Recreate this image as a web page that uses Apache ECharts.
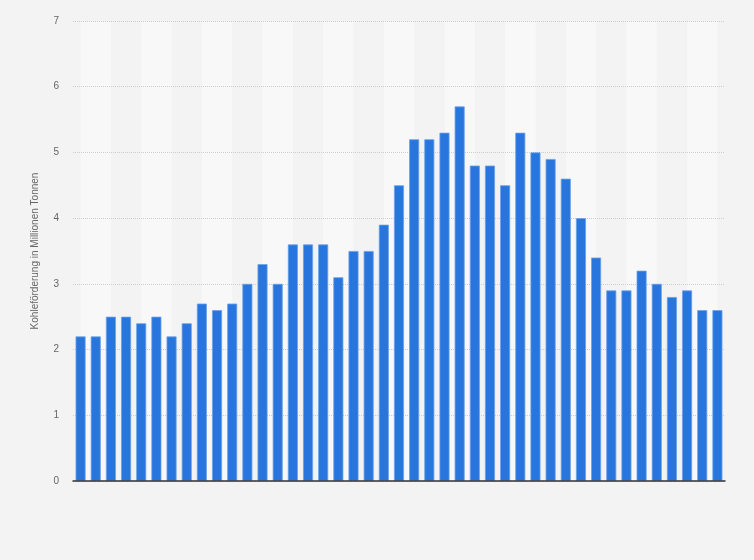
<!DOCTYPE html>
<html>
<head>
<meta charset="utf-8">
<script src="https://cdn.jsdelivr.net/npm/echarts@6/dist/echarts.min.js"></script>
<style>
html,body{margin:0;padding:0;background:#f3f3f3;}
#chart{width:754px;height:560px;}
</style>
</head>
<body>
<div id="chart"></div>
<script>
const categories = ['1','2','3','4','5','6','7','8','9','10','11','12','13','14','15','16','17','18','19','20','21','22','23','24','25','26','27','28','29','30','31','32','33','34','35','36','37','38','39','40','41','42','43'];
const values = [2.2,2.2,2.5,2.5,2.4,2.5,2.2,2.4,2.7,2.6,2.7,3.0,3.3,3.0,3.6,3.6,3.6,3.1,3.5,3.5,3.9,4.5,5.2,5.2,5.3,5.7,4.8,4.8,4.5,5.3,5.0,4.9,4.6,4.0,3.4,2.9,2.9,3.2,3.0,2.8,2.9,2.6,2.6];
const yTicks = [0,1,2,3,4,5,6,7];
const yTitle = 'Kohleförderung in Millionen Tonnen';

// alternating background bands, two categories wide, from bar centre to bar centre
const bands = [];
for (let i = 0; i + 2 < categories.length; i += 4) {
  bands.push([{xAxis: i + 0.5}, {xAxis: i + 2.5}]);
}

const chart = echarts.init(document.getElementById('chart'));
chart.setOption({
  backgroundColor: '#f3f3f3',
  animation: false,
  grid: {left: 73, right: 29, top: 21, bottom: 79},
  xAxis: [{
    type: 'category',
    data: categories,
    z: 4,
    axisLine: {show: true, lineStyle: {color: '#333', width: 1.5}},
    axisTick: {show: false},
    axisLabel: {show: false}
  }, {
    type: 'value',
    min: 0,
    max: categories.length,
    show: false
  }],
  yAxis: {
    type: 'value',
    min: yTicks[0],
    max: yTicks[yTicks.length - 1],
    interval: 1,
    z: 2,
    name: yTitle,
    nameLocation: 'middle',
    nameGap: 33,
    nameTextStyle: {color: '#666', fontSize: 10, fontFamily: 'Liberation Sans, Arial, sans-serif'},
    axisLine: {show: false},
    axisTick: {show: false},
    axisLabel: {color: '#666', fontSize: 10, margin: 14, fontFamily: 'Liberation Sans, Arial, sans-serif'},
    splitLine: {lineStyle: {color: '#cdcdcd', type: [1, 1], width: 1}}
  },
  series: [{
    type: 'line',
    xAxisIndex: 1,
    data: [],
    z: 0,
    silent: true,
    markArea: {
      silent: true,
      z: 0,
      itemStyle: {color: '#f8f8f8'},
      data: bands
    }
  }, {
    type: 'bar',
    data: values,
    barWidth: 10,
    itemStyle: {color: '#2876dd', borderColor: '#6a9fe8', borderWidth: 0.8},
    z: 3
  }]
});
</script>
</body>
</html>
